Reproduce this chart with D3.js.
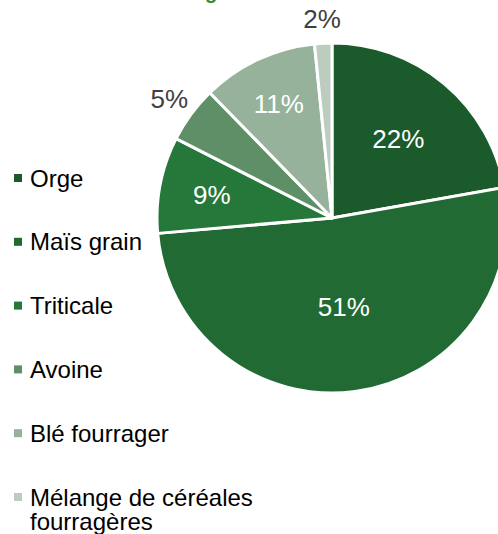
<!DOCTYPE html>
<html>
<head>
<meta charset="utf-8">
<script src="https://cdn.jsdelivr.net/npm/d3@7"></script>
<style>
html,body{margin:0;padding:0;background:#fff;}
svg{display:block;font-family:"Liberation Sans",Arial,sans-serif;}
</style>
</head>
<body>
<svg id="chart" width="498" height="534"></svg>
<script>
// ---- data ----
const categories = ["Orge", "Maïs grain", "Triticale", "Avoine", "Blé fourrager", "Mélange de céréales fourragères"];
const legendLines = [["Orge"], ["Maïs grain"], ["Triticale"], ["Avoine"], ["Blé fourrager"], ["Mélange de céréales", "fourragères"]];
const shares = [22.2, 51.4, 8.9, 5.2, 10.7, 1.6];
const percentLabels = ["22%", "51%", "9%", "5%", "11%", "2%"];
const title = "Céréales fourragères";

// ---- style / layout ----
const colors = ["#1b5a2a", "#226a33", "#26773a", "#5e8f67", "#97b29a", "#bccdbf"];
const labelRadiusFactor = [0.59, 0.51, 0.70, 1.155, 0.72, 1.14];
const insideLabel = [true, true, true, false, true, false];

const W = 498, H = 534;
const cx = 332, cy = 218, R = 175;
const svg = d3.select("#chart");

// title (cut off at top, as in the reference)
const t = svg.append("text")
  .attr("x", 0).attr("y", -1)
  .attr("font-size", 20).attr("font-weight", "bold")
  .attr("fill", "#2a8a3e")
  .text(title);
const gi = title.indexOf("g");
const gx = t.node().getStartPositionOfChar(gi).x;
t.attr("x", 205 - gx);

const pie = d3.pie().sort(null).value(d => d).startAngle(0).endAngle(2 * Math.PI);
const arcs = pie(shares);
const arc = d3.arc().innerRadius(0).outerRadius(R);

const g = svg.append("g").attr("transform", `translate(${cx},${cy})`);
g.selectAll("path.slice").data(arcs).join("path")
  .attr("class", "slice")
  .attr("d", arc)
  .attr("fill", (d, i) => colors[i])
  .attr("stroke", "#fff")
  .attr("stroke-width", 3)
  .attr("stroke-linejoin", "round");

g.selectAll("text.lbl").data(arcs).join("text")
  .attr("class", "lbl")
  .attr("transform", (d, i) => {
    const r = R * labelRadiusFactor[i];
    const c = d3.arc().innerRadius(r).outerRadius(r).centroid(d);
    return `translate(${c[0]},${c[1]})`;
  })
  .attr("text-anchor", "middle")
  .attr("dy", "0.36em")
  .attr("font-size", 26)
  .attr("fill", (d, i) => insideLabel[i] ? "#ffffff" : "#404040")
  .text((d, i) => percentLabels[i]);

// legend
const legY = d3.scalePoint().domain(categories).range([178, 497]);
const leg = svg.append("g");
categories.forEach((c, i) => {
  const y = legY(c);
  leg.append("rect").attr("x", 14).attr("y", y - 4).attr("width", 8).attr("height", 8).attr("fill", colors[i]);
  const tx = leg.append("text").attr("x", 30).attr("y", y)
    .attr("font-size", 24).attr("fill", "#000");
  legendLines[i].forEach((ln, j) => {
    tx.append("tspan").attr("x", 30).attr("dy", j === 0 ? "0.36em" : 24).text(ln);
  });
});
</script>
</body>
</html>
